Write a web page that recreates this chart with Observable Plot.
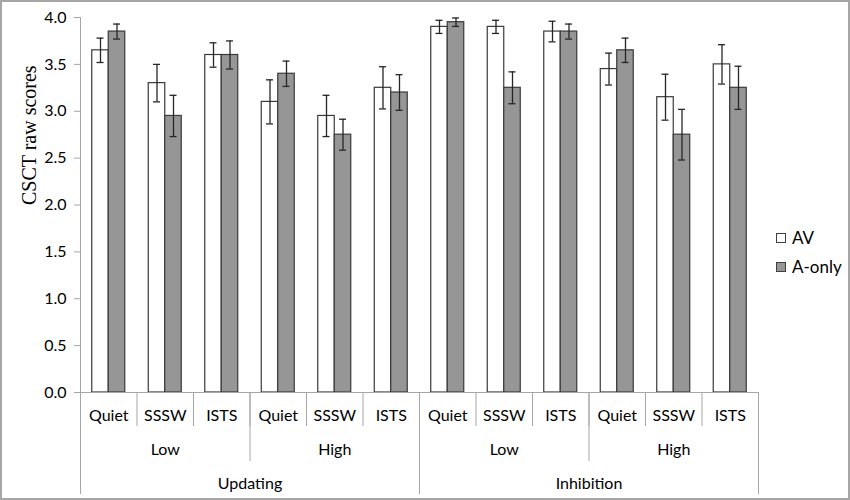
<!DOCTYPE html>
<html>
<head>
<meta charset="utf-8">
<script src="https://cdn.jsdelivr.net/npm/d3@7"></script>
<script src="https://cdn.jsdelivr.net/npm/@observablehq/plot@0.6"></script>
<style>
  html, body { margin: 0; padding: 0; background: #fff; }
  #wrap { position: relative; width: 850px; height: 500px; overflow: hidden; }
  #border { position: absolute; left: 0; top: 0; width: 850px; height: 500px; box-sizing: border-box; border: 2px solid #a6a6a6; pointer-events: none; }
  #legend { position: absolute; left: 776px; top: 223px; font-family: Lato, "Open Sans", sans-serif; font-size: 17px; color: #000; }
  .item { display: flex; align-items: center; height: 29px; }
  .sw { width: 8px; height: 8px; border: 1px solid #404040; margin-right: 6px; }
</style>
</head>
<body>
<div id="wrap">
  <div id="chart"></div>
  <div id="legend"></div>
  <div id="border"></div>
</div>
<script>
// ---- data ----
const tasks = ["Updating", "Inhibition"];
const levels = ["Low", "High"];
const conditions = ["Quiet", "SSSW", "ISTS"];
const series = ["AV", "A-only"];
const seriesColors = ["#ffffff", "#969696"];
const avMeans  = [3.65, 3.30, 3.60, 3.10, 2.95, 3.25, 3.90, 3.90, 3.85, 3.45, 3.15, 3.50];
const avErrors = [0.13, 0.20, 0.13, 0.235, 0.22, 0.225, 0.07, 0.07, 0.11, 0.17, 0.245, 0.21];
const aoMeans  = [3.85, 2.95, 3.60, 3.40, 2.75, 3.20, 3.95, 3.25, 3.85, 3.65, 2.75, 3.25];
const aoErrors = [0.08, 0.22, 0.15, 0.135, 0.165, 0.19, 0.045, 0.17, 0.08, 0.13, 0.27, 0.23];
const yTicks = [0, 0.5, 1.0, 1.5, 2.0, 2.5, 3.0, 3.5, 4.0];
const yLabel = "CSCT raw scores";

// ---- derived tables ----
const cells = [];
for (const t of tasks) for (const l of levels) for (const c of conditions)
  cells.push({i: cells.length, task: t, level: l, cond: c});

const barFrac = 0.292;   // bar width as a fraction of a category slot
const capHalf = 0.062;   // half width of error caps (slot units)
const rows = [];
cells.forEach((cell, k) => {
  rows.push({...cell, series: "AV", v: avMeans[k], e: avErrors[k], x1: cell.i + 0.5 - barFrac, x2: cell.i + 0.5});
  rows.push({...cell, series: "A-only", v: aoMeans[k], e: aoErrors[k], x1: cell.i + 0.5, x2: cell.i + 0.5 + barFrac});
});
rows.forEach(r => r.c = (r.x1 + r.x2) / 2);

const levelGroups = d3.groups(cells, d => d.task + "|" + d.level).map(([key, g]) => ({
  label: g[0].level, x: d3.mean(g, d => d.i + 0.5), start: d3.min(g, d => d.i), end: d3.max(g, d => d.i) + 1
}));
const taskGroups = d3.groups(cells, d => d.task).map(([key, g]) => ({
  label: key, x: d3.mean(g, d => d.i + 0.5), start: d3.min(g, d => d.i), end: d3.max(g, d => d.i) + 1
}));
const b1 = d3.range(cells.length + 1);
const b2 = Array.from(new Set(levelGroups.flatMap(g => [g.start, g.end])));
const b3 = Array.from(new Set(taskGroups.flatMap(g => [g.start, g.end])));

const axisGray = "#a6a6a6";
const font = "Lato, 'Open Sans', sans-serif";

const chart = Plot.plot({
  width: 850,
  height: 500,
  marginLeft: 80,
  marginRight: 92,
  marginTop: 17,
  marginBottom: 108,
  style: {fontFamily: font, fontSize: "16px", color: "#000", background: "transparent"},
  x: {type: "linear", domain: [0, cells.length]},
  y: {domain: [0, 4]},
  color: {domain: series, range: seriesColors},
  marks: [
    // y axis
    Plot.axisY({ticks: yTicks, tickFormat: d3.format(".1f"), tickSize: 6, tickPadding: 8, stroke: axisGray, fill: "#000", label: null, fontSize: 16}),
    Plot.ruleX([0], {stroke: axisGray}),
    Plot.text([yLabel], {frameAnchor: "left", dx: -51, rotate: -90, fontFamily: "'Liberation Serif', 'Times New Roman', serif", fontSize: 20, fill: "#000"}),
    // bars
    Plot.rectY(rows, {x1: "x1", x2: "x2", y: "v", fill: "series", stroke: "#3a3a3a", strokeWidth: 1.2}),
    // error bars
    Plot.ruleX(rows, {x: "c", y1: d => d.v - d.e, y2: d => d.v + d.e, stroke: "#262626", strokeWidth: 1.3}),
    Plot.ruleY(rows, {y: d => d.v + d.e, x1: d => d.c - capHalf, x2: d => d.c + capHalf, stroke: "#262626", strokeWidth: 1.3}),
    Plot.ruleY(rows, {y: d => d.v - d.e, x1: d => d.c - capHalf, x2: d => d.c + capHalf, stroke: "#262626", strokeWidth: 1.3}),
    // x baseline
    Plot.ruleY([0], {stroke: axisGray}),
    // hierarchical x axis separators
    Plot.axisX({ticks: b1, tickSize: 34, tickFormat: () => "", stroke: axisGray, label: null}),
    Plot.axisX({ticks: b2, tickSize: 69, tickFormat: () => "", stroke: axisGray, label: null}),
    Plot.axisX({ticks: b3, tickSize: 102, tickFormat: () => "", stroke: axisGray, label: null}),
    // hierarchical x labels
    Plot.text(cells, {x: d => d.i + 0.5, frameAnchor: "bottom", dy: 23, text: "cond", lineAnchor: "middle", fill: "#000"}),
    Plot.text(levelGroups, {x: "x", frameAnchor: "bottom", dy: 57, text: "label", lineAnchor: "middle", fill: "#000"}),
    Plot.text(taskGroups, {x: "x", frameAnchor: "bottom", dy: 91, text: "label", lineAnchor: "middle", fill: "#000"})
  ]
});
document.getElementById("chart").appendChild(chart);

// legend
const legend = document.getElementById("legend");
series.forEach((s, k) => {
  const item = document.createElement("div");
  item.className = "item";
  const sw = document.createElement("div");
  sw.className = "sw";
  sw.style.background = seriesColors[k];
  const label = document.createElement("span");
  label.textContent = s;
  item.appendChild(sw);
  item.appendChild(label);
  legend.appendChild(item);
});
</script>
</body>
</html>
